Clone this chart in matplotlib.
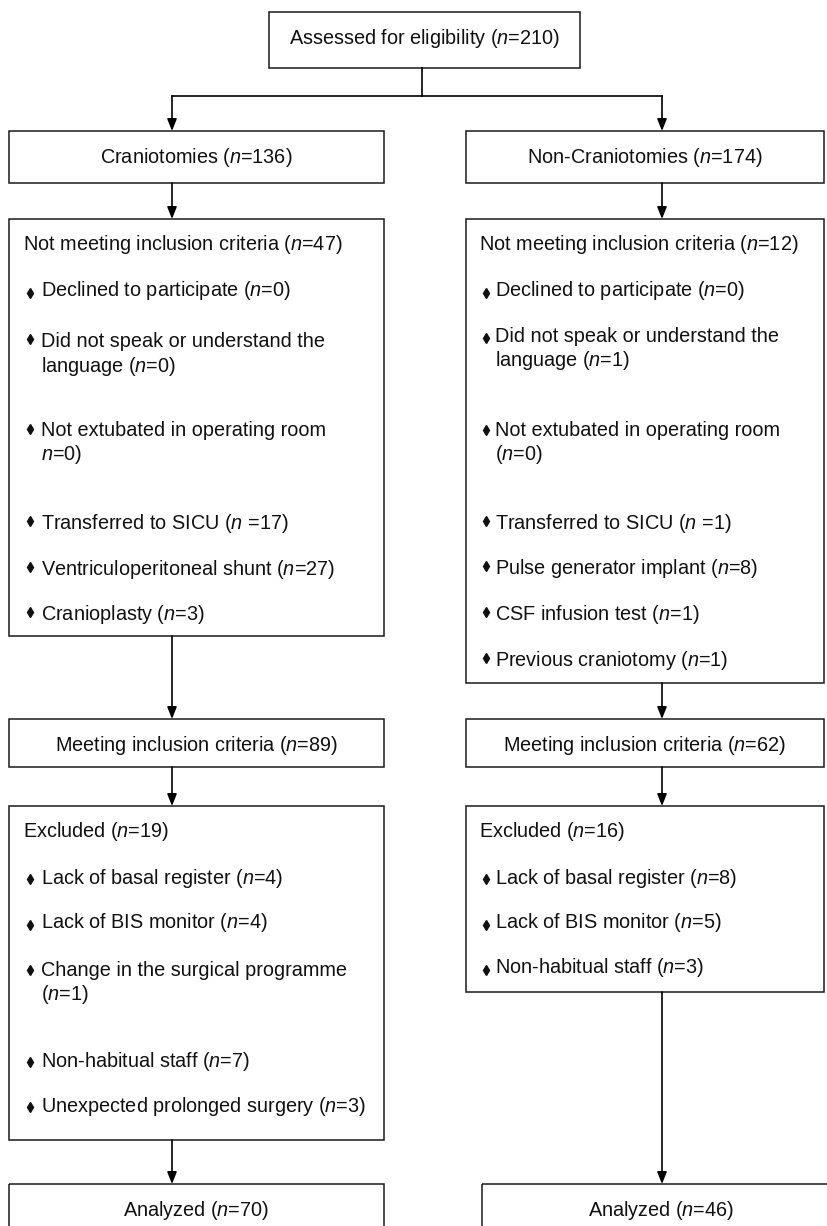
import matplotlib
matplotlib.use("Agg")
import matplotlib.pyplot as plt
from matplotlib.patches import Rectangle

plt.rcParams['font.family'] = ['Liberation Sans', 'DejaVu Sans']
plt.rcParams['mathtext.fontset'] = 'custom'
plt.rcParams['mathtext.rm'] = 'Liberation Sans'
plt.rcParams['mathtext.it'] = 'Liberation Sans:italic'

# ---------------- data ----------------
top_label = "Assessed for eligibility"
top_count = 210
arm_labels = ["Craniotomies", "Non-Craniotomies"]
arm_counts = [136, 174]
notmeet_header = "Not meeting inclusion criteria"
notmeet_counts = [47, 12]
crani_notmeet_reasons = ["Declined to participate",
                         "Did not speak or understand the\nlanguage",
                         "Not extubated in operating room",
                         "Transferred to SICU",
                         "Ventriculoperitoneal shunt",
                         "Cranioplasty"]
crani_notmeet_counts = [0, 0, 0, 17, 27, 3]
noncrani_notmeet_reasons = ["Declined to participate",
                            "Did not speak or understand the\nlanguage",
                            "Not extubated in operating room",
                            "Transferred to SICU",
                            "Pulse generator implant",
                            "CSF infusion test",
                            "Previous craniotomy"]
noncrani_notmeet_counts = [0, 1, 0, 1, 8, 1, 1]
meeting_label = "Meeting inclusion criteria"
meeting_counts = [89, 62]
excluded_label = "Excluded"
excluded_counts = [19, 16]
crani_excl_reasons = ["Lack of basal register", "Lack of BIS monitor",
                      "Change in the surgical programme",
                      "Non-habitual staff", "Unexpected prolonged surgery"]
crani_excl_counts = [4, 4, 1, 7, 3]
noncrani_excl_reasons = ["Lack of basal register", "Lack of BIS monitor",
                         "Non-habitual staff"]
noncrani_excl_counts = [8, 5, 3]
analyzed_label = "Analyzed"
analyzed_counts = [70, 46]

# ---------------- text templates ----------------
T_IN = "{r} ($n$={c})"
T_BR = "{r}\n($n$={c})"
T_BR_NOPAREN = "{r}\n$n$={c})"
T_SP = "{r} ($n$ ={c})"

crani_notmeet_tmpl = [T_IN, T_IN, T_BR_NOPAREN, T_SP, T_IN, T_IN]
noncrani_notmeet_tmpl = [T_IN, T_IN, T_BR, T_SP, T_IN, T_IN, T_IN]
crani_excl_tmpl = [T_IN, T_IN, T_BR, T_IN, T_IN]
noncrani_excl_tmpl = [T_IN, T_IN, T_IN]

# ---------------- layout (pixels) ----------------
W, H = 827, 1226
FS = 14.3
TXT = "#111111"
LW_BOX = 1.1
LW_LINE = 1.2
LINE_GAP = 24.5

fig = plt.figure(figsize=(W / 100, H / 100), dpi=100)
ax = fig.add_axes([0, 0, 1, 1])
ax.set_xlim(0, W)
ax.set_ylim(H, 0)
ax.axis('off')


def box(x0, y0, x1, y1):
    ax.add_patch(Rectangle((x0, y0), x1 - x0, y1 - y0, fill=False,
                           edgecolor='#1a1a1a', lw=LW_BOX, zorder=2))


def arrow(x, y0, y1):
    ax.annotate("", xy=(x, y1), xytext=(x, y0),
                arrowprops=dict(arrowstyle='-|>,head_length=0.55,head_width=0.22',
                                mutation_scale=13, lw=LW_LINE, color='black',
                                shrinkA=0, shrinkB=0), zorder=3)


def ctext(x, y, s):
    ax.text(x, y, s, ha='center', va='baseline', fontsize=FS, color=TXT)


def ltext(x, y, s):
    ax.text(x, y, s, ha='left', va='baseline', fontsize=FS, color=TXT)


def items(bx, tx, baselines, offsets, reasons, counts, tmpl):
    for yb, off, r, c, t in zip(baselines, offsets, reasons, counts, tmpl):
        s = t.format(r=r, c=c)
        for i, line in enumerate(s.split("\n")):
            ltext(tx, yb + i * LINE_GAP, line)
        ax.plot([bx], [yb - off], marker='d', markersize=5.0, color=TXT,
                linestyle='none', zorder=3)


# top box
box(269, 12, 580, 68)
ctext(424.5, 44, f"{top_label} ($n$={top_count})")
ax.plot([422, 422], [68, 96], color='black', lw=LW_LINE)
col_x = [172, 662]
ax.plot([col_x[0], col_x[1]], [96, 96], color='black', lw=LW_LINE)
for cx in col_x:
    arrow(cx, 96, 131)

# boxes horizontal extents
L = (9, 384)
R = (466, 824)
cols = [L, R]

# arm boxes
for (x0, x1), lab, n in zip(cols, arm_labels, arm_counts):
    box(x0, 131, x1, 183)
    ctext((x0 + x1) / 2, 163, f"{lab} ($n$={n})")
for cx in col_x:
    arrow(cx, 183, 219)

# not meeting boxes
box(L[0], 219, L[1], 636)
box(R[0], 219, R[1], 683)
ltext(23, 250, f"{notmeet_header} ($n$={notmeet_counts[0]})")
ltext(479, 250, f"{notmeet_header} ($n$={notmeet_counts[1]})")
items(29.5, 41, [296, 347, 436, 529, 575, 620], [3.5, 8.5, 7, 8.5, 8.5, 8],
      crani_notmeet_reasons, crani_notmeet_counts, crani_notmeet_tmpl)
items(486, 495, [296, 342, 436, 529, 574, 620, 666], [3.5, 4, 6.5, 8.5, 8.5, 8.5, 8.5],
      noncrani_notmeet_reasons, noncrani_notmeet_counts, noncrani_notmeet_tmpl)

arrow(col_x[0], 636, 719)
arrow(col_x[1], 683, 719)

# meeting boxes
for (x0, x1), n in zip(cols, meeting_counts):
    box(x0, 719, x1, 767)
    ctext((x0 + x1) / 2, 751, f"{meeting_label} ($n$={n})")
for cx in col_x:
    arrow(cx, 767, 806)

# excluded boxes
box(L[0], 806, L[1], 1140)
box(R[0], 806, R[1], 992)
ltext(23, 837, f"{excluded_label} ($n$={excluded_counts[0]})")
ltext(479, 837, f"{excluded_label} ($n$={excluded_counts[1]})")
items(29.5, 41, [884, 928, 976, 1067, 1112], [5, 3, 6, 5, 5],
      crani_excl_reasons, crani_excl_counts, crani_excl_tmpl)
items(486, 495, [884, 928, 973], [5, 3, 3.5],
      noncrani_excl_reasons, noncrani_excl_counts, noncrani_excl_tmpl)

arrow(col_x[0], 1140, 1184)
arrow(col_x[1], 992, 1184)

# analyzed boxes (run off the bottom edge)
an_cols = [(9, 384), (482, 840)]
for (x0, x1), n in zip(an_cols, analyzed_counts):
    box(x0, 1184, x1, 1240)
    ctext((x0 + x1) / 2, 1216, f"{analyzed_label} ($n$={n})")

fig.savefig("out.png", dpi=100, facecolor='white')
